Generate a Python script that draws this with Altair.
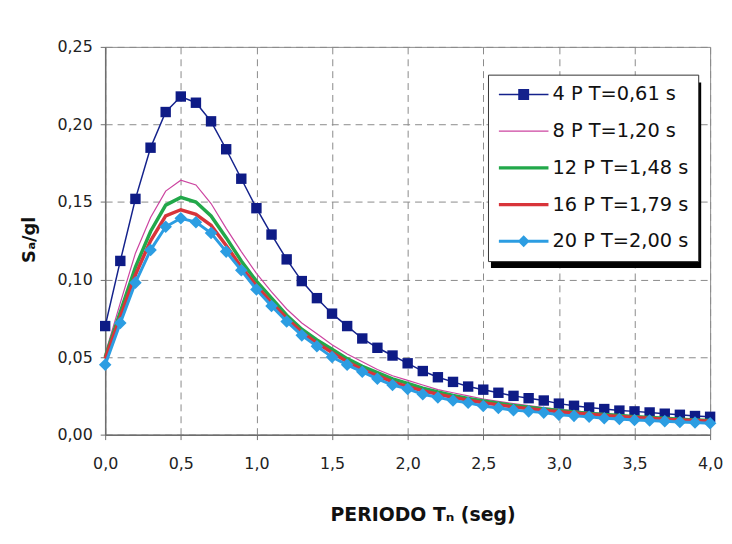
import altair as alt
import pandas as pd

# ---------------- data ----------------
periods = [0.0, 0.1, 0.2, 0.3, 0.4, 0.5, 0.6, 0.7, 0.8, 0.9,
           1.0, 1.1, 1.2, 1.3, 1.4, 1.5, 1.6, 1.7, 1.8, 1.9,
           2.0, 2.1, 2.2, 2.3, 2.4, 2.5, 2.6, 2.7, 2.8, 2.9,
           3.0, 3.1, 3.2, 3.3, 3.4, 3.5, 3.6, 3.7, 3.8, 3.9, 4.0]

sa_4p = [0.070, 0.112, 0.152, 0.185, 0.208, 0.218, 0.214, 0.202, 0.184, 0.165,
         0.146, 0.129, 0.113, 0.099, 0.088, 0.078, 0.070, 0.062, 0.056, 0.051,
         0.046, 0.041, 0.037, 0.034, 0.031, 0.029, 0.027, 0.025, 0.0235, 0.022,
         0.020, 0.0186, 0.0175, 0.0165, 0.0155, 0.015, 0.0143, 0.0135, 0.0128, 0.012, 0.0115]

sa_8p = [0.052, 0.085, 0.117, 0.140, 0.157, 0.164, 0.161, 0.149, 0.133, 0.118,
         0.104, 0.092, 0.081, 0.072, 0.065, 0.058, 0.052, 0.047, 0.042, 0.038,
         0.035, 0.032, 0.029, 0.027, 0.025, 0.023, 0.0215, 0.020, 0.0187, 0.0175,
         0.0163, 0.0153, 0.0144, 0.0136, 0.0128, 0.0121, 0.0115, 0.0109, 0.0104, 0.0099, 0.0095]

sa_12p = [0.050, 0.079, 0.108, 0.131, 0.148, 0.153, 0.150, 0.141, 0.127, 0.112,
          0.099, 0.088, 0.077, 0.068, 0.061, 0.055, 0.049, 0.044, 0.040, 0.036,
          0.033, 0.030, 0.0275, 0.0253, 0.0234, 0.0217, 0.0202, 0.0188, 0.0176, 0.0165,
          0.0155, 0.0146, 0.0137, 0.0130, 0.0123, 0.0116, 0.0110, 0.0105, 0.0100, 0.0095, 0.0091]

sa_16p = [0.049, 0.076, 0.103, 0.125, 0.141, 0.145, 0.142, 0.135, 0.122, 0.108,
          0.096, 0.085, 0.075, 0.066, 0.059, 0.053, 0.047, 0.042, 0.038, 0.034,
          0.031, 0.0283, 0.0260, 0.0240, 0.0222, 0.0206, 0.0192, 0.0179, 0.0167, 0.0157,
          0.0148, 0.0139, 0.0131, 0.0124, 0.0117, 0.0111, 0.0105, 0.0100, 0.0095, 0.0091, 0.0087]

sa_20p = [0.045, 0.072, 0.098, 0.119, 0.134, 0.1395, 0.137, 0.130, 0.118, 0.106,
          0.0936, 0.083, 0.073, 0.064, 0.057, 0.050, 0.045, 0.0405, 0.036, 0.032,
          0.0295, 0.026, 0.024, 0.022, 0.0205, 0.0185, 0.0172, 0.0158, 0.015, 0.0142,
          0.0128, 0.0121, 0.0115, 0.0106, 0.0101, 0.0094, 0.0091, 0.0087, 0.0082, 0.0078, 0.0074]

series_names = ["4 P T=0,61 s", "8 P T=1,20 s", "12 P T=1,48 s", "16 P T=1,79 s", "20 P T=2,00 s"]
series_values = [sa_4p, sa_8p, sa_12p, sa_16p, sa_20p]
series_colors = ["#14228c", "#cc44a0", "#22a84a", "#d8343a", "#2c9de2"]
series_widths = [1.5, 1.2, 3.5, 3.5, 3.0]

x_ticks = [0.0, 0.5, 1.0, 1.5, 2.0, 2.5, 3.0, 3.5, 4.0]
y_ticks = [0.0, 0.05, 0.10, 0.15, 0.20, 0.25]

# legend symbols: line (+ marker) drawn as filled paths
legend_paths = [
    "M-2.5,-0.07H2.5V0.07H-2.5Z M-0.55,-0.55H0.55V0.55H-0.55Z",
    "M-2.5,-0.06H2.5V0.06H-2.5Z",
    "M-2.5,-0.17H2.5V0.17H-2.5Z",
    "M-2.5,-0.17H2.5V0.17H-2.5Z",
    "M-2.5,-0.15H2.5V0.15H-2.5Z M0,-0.6L0.6,0L0,0.6L-0.6,0Z",
]

rows = []
for name, vals in zip(series_names, series_values):
    for t, v in zip(periods, vals):
        rows.append({"T": t, "Sa": v, "serie": name})
df = pd.DataFrame(rows)

FONT = "DejaVu Sans"
W, H = 610, 391
PAD = {"left": 98, "top": 37, "right": 14, "bottom": 100}

x_enc = alt.X(
    "T:Q",
    scale=alt.Scale(domain=[0, 4], nice=False, zero=False),
    axis=alt.Axis(
        values=x_ticks,
        labelExpr="replace(format(datum.value, '.1f'), '.', ',')",
        labelFlush=False, labelOverlap=False,
        title="PERIODO Tₙ (seg)",
        titleX=320, titleY=87, titleAlign="center", titleBaseline="alphabetic",
        tickSize=5, labelPadding=16,
    ),
)
y_enc = alt.Y(
    "Sa:Q",
    scale=alt.Scale(domain=[0, 0.25], nice=False),
    axis=alt.Axis(
        values=y_ticks,
        labelExpr="replace(format(datum.value, '.2f'), '.', ',')",
        labelFlush=False, labelOverlap=False,
        title="Sₐ/gl",
        titleX=-76, titleY=194, titleAngle=-90, titleAlign="center", titleBaseline="middle",
        titleFontSize=18,
        tickSize=5, labelPadding=8,
    ),
)

base = alt.Chart(df).encode(x=x_enc, y=y_enc)

layers = []

# decorative legend shadow (behind the legend box)
deco = pd.DataFrame({"k": [0]})
shadow = alt.Chart(deco).mark_rect(color="#000000").encode(
    x=alt.value(389), x2=alt.value(601), y=alt.value(36), y2=alt.value(223)
)
layers.append(shadow)

for name, col, w in zip(series_names, series_colors, series_widths):
    layers.append(
        base.transform_filter(alt.datum.serie == name).mark_line(color=col, strokeWidth=w)
    )

squares = base.transform_filter(alt.datum.serie == series_names[0]).mark_point(
    shape="square", filled=True, size=110, color="#0e1b86", opacity=1
)
diamonds = base.transform_filter(alt.datum.serie == series_names[4]).mark_point(
    shape="diamond", filled=True, size=160, color="#2c9de2", opacity=1
)
layers.insert(2, squares)
layers.append(diamonds)

legend = alt.Legend(
    title=None, orient="none", legendX=386, legendY=28,
    symbolSize=400, symbolStrokeWidth=0, symbolOpacity=1,
    symbolOffset=16, labelOffset=19, rowPadding=17, padding=10,
    labelFont=FONT, labelFontSize=19.5, labelColor="#111111",
    strokeColor="#333333", fillColor="#ffffff",
)
ghost = base.mark_point(filled=True, opacity=0).encode(
    fill=alt.Fill("serie:N", scale=alt.Scale(domain=series_names, range=series_colors), legend=legend),
    shape=alt.Shape("serie:N", scale=alt.Scale(domain=series_names, range=legend_paths), legend=legend),
)
layers.append(ghost)

chart = (
    alt.layer(*layers)
    .properties(
        width=W, height=H,
        autosize=alt.AutoSizeParams(type="none"),
        padding=PAD,
        background="#ffffff",
    )
    .configure_view(stroke="#8c8c8c", strokeWidth=1)
    .configure_axis(
        labelFont=FONT, labelFontSize=16, labelColor="#222222",
        titleFont=FONT, titleFontSize=19, titleFontWeight="bold", titleColor="#111111",
        grid=True, gridColor="#8a8a8a", gridDash=[7, 5], gridWidth=1,
        domainColor="#6e6e6e", domainWidth=1.5, tickColor="#6e6e6e", tickWidth=1,
    )
)

chart.save("out.html", embed_options={"renderer": "svg", "actions": False})
